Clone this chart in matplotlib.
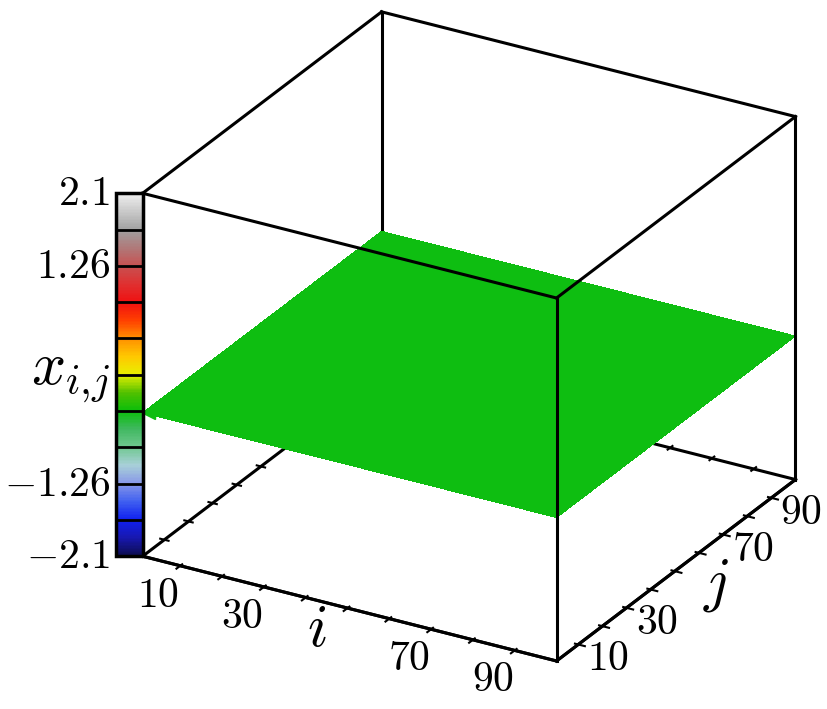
import matplotlib
matplotlib.use('Agg')
import matplotlib.pyplot as plt
import numpy as np
from matplotlib.colors import LinearSegmentedColormap, Normalize
from matplotlib.cm import ScalarMappable
from mpl_toolkits.mplot3d import proj3d

plt.rcParams['mathtext.fontset'] = 'cm'
plt.rcParams['xtick.major.width'] = 1.5
plt.rcParams['ytick.major.width'] = 1.5

# grid extent and surface level
i_range = [1, 100]
j_range = [1, 100]
x_range = [-2.1, 2.1]
x_level = -0.44

i_ticks = [10, 20, 30, 40, 50, 60, 70, 80, 90]
i_ticklabels = ['10', '', '30', '', '', '', '70', '', '90']
j_ticks = [10, 20, 30, 40, 50, 60, 70, 80, 90]
j_ticklabels = ['10', '', '30', '', '', '', '70', '', '90']
cbar_ticks = [-2.1, -1.26, 1.26, 2.1]
cbar_ticklabels = ['-2.1', '-1.26', '1.26', '2.1']
n_bands = 10

cmap = LinearSegmentedColormap.from_list('maple', [
    '#0c0c50', '#1818b0', '#1020f0', '#4060f0', '#8898e8', '#a8d0d8',
    '#70c890', '#40b860', '#0abe0a', '#50c000', '#e8f000', '#ffc800',
    '#ff9000', '#ff4000', '#f01010', '#e03030', '#c85050', '#b07878',
    '#a0a0a0', '#c8c8c8', '#eeeeee'])
norm = Normalize(*x_range)

fig = plt.figure(figsize=(8.27, 7.09), dpi=100)
ax = fig.add_axes([0.0556, 0.012, 1, 1], projection='3d', proj_type='ortho',
                  computed_zorder=False)
ax.view_init(elev=26, azim=-60)
ax.set_box_aspect((1, 1, 0.845), zoom=1.078)
ax.set_xlim(*i_range)
ax.set_ylim(*j_range)
ax.set_zlim(*x_range)
ax.grid(False)
for a in (ax.xaxis, ax.yaxis, ax.zaxis):
    a.pane.set_visible(False)
    a.line.set_color('black')
    a.line.set_linewidth(2.2)
ax.zaxis.line.set_linewidth(0)
ax.set_zticks([])
ax.set_xticks(i_ticks)
ax.set_xticklabels([''] * len(i_ticks))
ax.set_yticks(j_ticks)
ax.set_yticklabels([''] * len(j_ticks))

i0, i1 = i_range
j0, j1 = j_range
z0, z1 = x_range

# surface
I, J = np.meshgrid(i_range, j_range)
X = np.full(I.shape, x_level)
plane_color = cmap(norm(x_level))
ax.plot_surface(I, J, X, color=plane_color, shade=False, linewidth=0,
                antialiased=False, zorder=2)

# box edges: the ones under the plane go behind it
back_edges = [([i0, i0], [j0, j1], [z0, z0]),
              ([i0, i1], [j1, j1], [z0, z0]),
              ([i0, i0], [j1, j1], [z0, z1])]
front_edges = [([i0, i1], [j0, j0], [z0, z0]),
               ([i1, i1], [j0, j1], [z0, z0]),
               ([i0, i0], [j0, j0], [z0, z1]),
               ([i1, i1], [j0, j0], [z0, z1]),
               ([i1, i1], [j1, j1], [z0, z1]),
               ([i0, i1], [j0, j0], [z1, z1]),
               ([i1, i1], [j0, j1], [z1, z1]),
               ([i0, i1], [j1, j1], [z1, z1]),
               ([i0, i0], [j0, j1], [z1, z1])]
for e in back_edges:
    ax.plot(*e, color='black', lw=2.2, zorder=1)
for e in front_edges:
    ax.plot(*e, color='black', lw=2.2, zorder=3)
for t in j_ticks:
    ax.plot([i0 - 1, i0 + 1], [t, t], [z0, z0], color='black', lw=1.5, zorder=1)
for t in i_ticks:
    ax.plot([t, t], [j1 - 1, j1 + 1], [z0, z0], color='black', lw=1.5, zorder=1)

fig.canvas.draw()
M = ax.get_proj()


def to_fig(x, y, z, dx=0, dy=0):
    px, py, _ = proj3d.proj_transform(x, y, z, M)
    disp = ax.transData.transform((px, py)) + np.array([dx, dy])
    return fig.transFigure.inverted().transform(disp)


# tick labels and axis labels beside the front edges (offsets in pixels)
for t, s in zip(i_ticks, i_ticklabels):
    if s:
        fx, fy = to_fig(t, j0, z0, -22, -29)
        fig.text(fx, fy, '$%s$' % s, fontsize=30, ha='center', va='center')
for t, s in zip(j_ticks, j_ticklabels):
    if s:
        fx, fy = to_fig(i1, t, z0, 30, -14)
        fig.text(fx, fy, '$%s$' % s, fontsize=30, ha='center', va='center')
fx, fy = to_fig((i0 + i1) / 2, j0, z0, -33, -21)
fig.text(fx, fy, '$i$', fontsize=43, ha='center', va='center')
fx, fy = to_fig(i1, (j0 + j1) / 2, z0, 40, -14)
fig.text(fx, fy, '$j$', fontsize=43, ha='center', va='center')

# colour bar standing on the left vertical edge of the box
bot = to_fig(i0, j0, z0)
top = to_fig(i0, j0, z1)
w = 27 / 827
cax = fig.add_axes([bot[0] - w, bot[1], w, top[1] - bot[1]])
cb = fig.colorbar(ScalarMappable(norm=norm, cmap=cmap), cax=cax,
                  ticks=cbar_ticks)
cb.set_ticklabels(['$%s$' % s for s in cbar_ticklabels])
cb.outline.set_linewidth(2.5)
cax.yaxis.set_ticks_position('left')
cax.tick_params(length=0, labelsize=30, pad=4)
for lab in cax.get_yticklabels():
    lab.set_va('center')
for b in np.linspace(z0, z1, n_bands + 1)[1:-1]:
    cax.axhline(b, color='black', lw=2)
cax.plot([1.25], [x_level], marker='<', ms=8, color=plane_color,
         clip_on=False)
cax.annotate('$x_{i{,}j}$', xy=(0, 0.5), xycoords='axes fraction',
             xytext=(-4, 0), textcoords='offset points', ha='right',
             va='center', fontsize=43)

fig.savefig('out.png', dpi=100)
